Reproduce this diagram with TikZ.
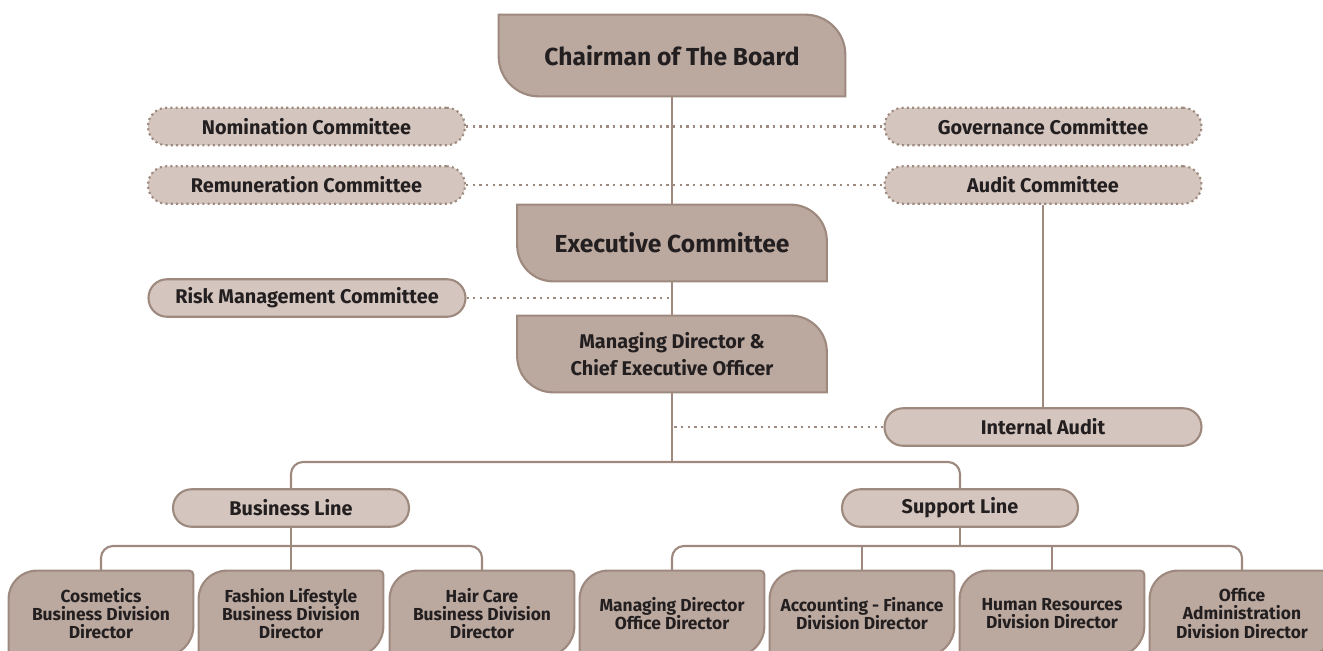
\documentclass[tikz,border=0pt]{standalone}
\usepackage{fontspec}
\setmainfont{Fira Sans}
\usetikzlibrary{positioning,backgrounds}

\definecolor{boxdark}{HTML}{BBA99F}
\definecolor{boxlight}{HTML}{D4C6BE}
\definecolor{edge}{HTML}{9E897E}
\definecolor{ink}{HTML}{231F20}

% head box: rounded top right and bottom left
\newcommand{\headshape}[2]{%
  \filldraw[headbox] (#1.north west) -- ([xshift=-#2]#1.north east)
    arc[start angle=90, end angle=0, radius=#2] -- (#1.south east)
    -- ([xshift=#2]#1.south west) arc[start angle=270, end angle=180, radius=#2] -- cycle;}
% division box: rounded top left, small top right, rounded bottom right
\newcommand{\leafshape}[1]{%
  \filldraw[headbox] (#1.south west) -- ([yshift=-0.56cm]#1.north west)
    arc[start angle=180, end angle=90, radius=0.56cm] -- ([xshift=-0.08cm]#1.north east)
    arc[start angle=90, end angle=0, radius=0.08cm] -- ([yshift=0.6cm]#1.south east)
    arc[start angle=0, end angle=-90, radius=0.6cm] -- cycle;}

\begin{document}
\begin{tikzpicture}[x=0.02cm, y=-0.02cm,
    headbox/.style={fill=boxdark, draw=edge, line width=1.2pt},
    headtext/.style={inner sep=0pt, text=ink, align=center},
    pill/.style={fill=boxlight, draw=edge, line width=1.2pt, rounded corners=0.37cm,
      minimum width=6.34cm, minimum height=0.75cm, inner sep=0pt, text=ink,
      font=\bfseries\fontsize{11.3}{13}\selectfont},
    dotpill/.style={pill, line width=1.2pt, dash pattern=on 1.2pt off 1.8pt},
    leaf/.style={headtext, minimum width=3.68cm, minimum height=1.7cm,
      font=\bfseries\fontsize{9.9}{10.3}\selectfont},
    conn/.style={draw=edge, line width=1.2pt},
    dotconn/.style={draw=edge, line width=1.4pt, dash pattern=on 1.3pt off 2.5pt}]
  \useasboundingbox (0,0) rectangle (1323,650);
  \clip (0,0) rectangle (1323,650);

  % Board and management
  \node[headtext, minimum width=6.92cm, minimum height=1.62cm,
    font=\bfseries\fontsize{14}{16}\selectfont] (chair) at (672,55.5) {Chairman of The Board};
  \node[headtext, minimum width=6.18cm, minimum height=1.52cm,
    font=\bfseries\fontsize{14}{16}\selectfont] (exec) at (672,243) {Executive Committee};
  \node[headtext, minimum width=6.18cm, minimum height=1.52cm,
    font=\bfseries\fontsize{11.3}{15.3}\selectfont] (mdceo) at (672,354) {Managing Director \&\\Chief Executive Officer};

  % Committees
  \node[dotpill] (nomcom) at (306.5,126.5) {Nomination Committee};
  \node[dotpill] (govcom) at (1043,126.5) {Governance Committee};
  \node[dotpill] (remcom) at (306.5,185) {Remuneration Committee};
  \node[dotpill] (audcom) at (1043,185) {Audit Committee};
  \node[pill] (riskcom) at (307,298) {Risk Management Committee};
  \node[pill] (intaudit) at (1043,427) {Internal Audit};

  % Lines
  \node[pill, minimum width=4.72cm] (busline) at (291,508) {Business Line};
  \node[pill, minimum width=4.72cm] (supline) at (960,508) {Support Line};

  % Divisions
  \node[leaf] (cosm) at (101,613.5) {Cosmetics\\Business Division\\Director};
  \node[leaf] (fash) at (291,613.5) {Fashion Lifestyle\\Business Division\\Director};
  \node[leaf] (hair) at (482,613.5) {Hair Care\\Business Division\\Director};
  \node[leaf] (mdoff) at (672,613.5) {Managing Director\\Office Director};
  \node[leaf] (acct) at (862,613.5) {Accounting - Finance\\Division Director};
  \node[leaf] (hr) at (1052,613.5) {Human Resources\\Division Director};
  \node[leaf] (offadm) at (1242,613.5) {Office\\Administration\\Division Director};

  \begin{scope}[on background layer]
    \clip (0,0) rectangle (1323,650);
    \headshape{chair}{0.8cm}
    \headshape{exec}{0.72cm}
    \headshape{mdceo}{0.72cm}
    \foreach \n in {cosm,fash,hair,mdoff,acct,hr,offadm}
      {\leafshape{\n}}
  \end{scope}

  % Solid connectors
  \draw[conn] (chair) -- (exec);
  \draw[conn] (exec) -- (mdceo);
  \coordinate (line split) at (672,462);
  \draw[conn] (mdceo) -- (line split);
  \draw[conn, rounded corners=0.24cm] (busline) |- (line split) -| (supline);
  \draw[conn] (audcom) -- (intaudit);

  \coordinate (bus split) at (291,546);
  \draw[conn] (busline) -- (fash);
  \draw[conn, rounded corners=0.24cm] (cosm) |- (bus split) -| (hair);

  \coordinate (sup split) at (960,546);
  \draw[conn] (supline) -- (sup split);
  \draw[conn, rounded corners=0.24cm] (mdoff) |- (sup split) -| (offadm);
  \draw[conn] (acct) -- (acct |- sup split);
  \draw[conn] (hr) -- (hr |- sup split);

  % Dotted connectors
  \draw[dotconn] (nomcom) -- (govcom);
  \draw[dotconn] (remcom) -- (audcom);
  \draw[dotconn] (riskcom) -- (riskcom -| exec);
  \draw[dotconn] (intaudit) -- (intaudit -| mdceo);
\end{tikzpicture}
\end{document}
